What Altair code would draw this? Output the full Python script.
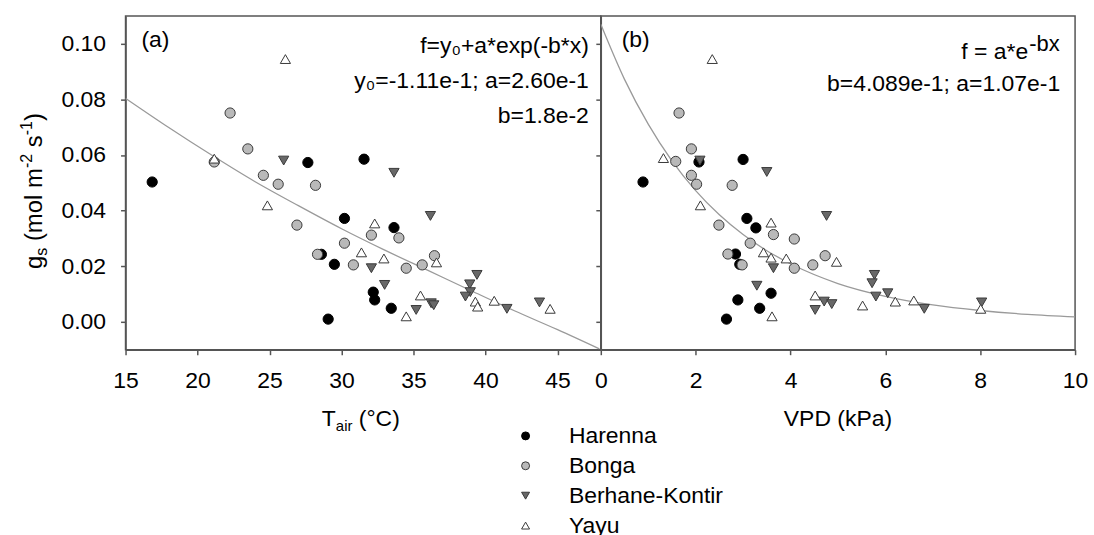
import altair as alt
import pandas as pd

FONT = "Liberation Sans"
SITES = ["Harenna", "Bonga", "Berhane-Kontir", "Yayu"]
SHAPES = ["circle", "circle", "triangle-down", "triangle-up"]
FILLS = ["#000000", "#b9b9b9", "#686868", "#ffffff"]
STROKES = ["#000000", "#3a3a3a", "#3a3a3a", "#3a3a3a"]

# ---- panel (a): T_air vs gs ----
harenna_t = [16.85, 27.66, 30.2, 28.6, 29.5, 29.07, 31.56, 33.64, 32.2, 32.3, 33.45]
harenna_t_gs = [0.0503, 0.0573, 0.0372, 0.0243, 0.0207, 0.001, 0.0585, 0.0339, 0.0107, 0.0079, 0.0049]
bonga_t = [22.26, 23.49, 21.16, 24.57, 25.6, 28.19, 26.9, 30.2, 28.33, 30.82, 32.07, 33.98, 36.45, 34.49, 35.6]
bonga_t_gs = [0.0751, 0.0622, 0.0575, 0.0527, 0.0495, 0.0491, 0.0348, 0.0283, 0.0243, 0.0205, 0.0312, 0.0302, 0.0238, 0.0193, 0.0205]
berhane_t = [25.98, 33.64, 36.17, 32.07, 32.99, 35.18, 36.22, 36.4, 39.4, 38.9, 38.94, 38.6, 41.48, 43.74]
berhane_t_gs = [0.058, 0.0536, 0.0381, 0.0193, 0.0133, 0.0043, 0.0067, 0.006, 0.0169, 0.0135, 0.0107, 0.0091, 0.0047, 0.007]
yayu_t = [26.1, 21.16, 24.85, 31.38, 32.3, 32.94, 36.59, 35.48, 34.49, 39.29, 39.45, 40.6, 44.48]
yayu_t_gs = [0.0945, 0.0587, 0.0419, 0.025, 0.0354, 0.0228, 0.0214, 0.0095, 0.002, 0.0073, 0.0055, 0.0076, 0.0047]

# ---- panel (b): VPD vs gs ----
harenna_v = [0.89, 2.07, 3.0, 3.08, 3.27, 2.84, 2.93, 3.59, 2.89, 3.35, 2.65]
harenna_v_gs = [0.0503, 0.0575, 0.0584, 0.0372, 0.0338, 0.0244, 0.0207, 0.0103, 0.0079, 0.0049, 0.001]
bonga_v = [1.65, 1.91, 1.58, 1.91, 2.02, 2.77, 2.49, 3.15, 2.68, 2.98, 3.64, 4.08, 4.73, 4.47, 4.08]
bonga_v_gs = [0.0751, 0.0622, 0.0577, 0.0527, 0.0495, 0.0491, 0.0348, 0.0283, 0.0244, 0.0205, 0.0314, 0.0298, 0.0238, 0.0205, 0.0193]
berhane_v = [2.09, 3.5, 4.76, 3.64, 3.29, 4.52, 4.71, 4.87, 5.77, 5.72, 5.8, 6.05, 6.82, 8.03]
berhane_v_gs = [0.058, 0.0539, 0.0381, 0.0193, 0.013, 0.0043, 0.0073, 0.0064, 0.0169, 0.0139, 0.0091, 0.0103, 0.0047, 0.007]
yayu_v = [2.35, 1.32, 2.1, 3.59, 3.43, 3.59, 3.91, 4.97, 4.52, 3.61, 5.52, 6.21, 6.6, 8.01]
yayu_v_gs = [0.0945, 0.0589, 0.0419, 0.0357, 0.025, 0.0231, 0.0228, 0.0216, 0.0095, 0.002, 0.0059, 0.0073, 0.0077, 0.0047]

# ---- fitted curves ----
curve_a_x = [15, 18, 21, 24, 27, 30, 33, 36, 39, 42, 45, 47.9]
curve_a_y = [0.0804, 0.0699, 0.0599, 0.0504, 0.0418, 0.0335, 0.0258, 0.0185, 0.0112, 0.0040, -0.0028, -0.0097]
curve_b_x = [0, 0.5, 1, 1.5, 2, 2.5, 3, 3.5, 4, 5, 6, 7, 8, 9, 10]
curve_b_y = [0.107, 0.0872, 0.0711, 0.0579, 0.0472, 0.0385, 0.0314, 0.0256, 0.0209, 0.0138, 0.0092, 0.0061, 0.0041, 0.0027, 0.0018]

x_ticks_a = [15, 20, 25, 30, 35, 40, 45]
x_ticks_b = [0, 2, 4, 6, 8, 10]
y_ticks = [0.0, 0.02, 0.04, 0.06, 0.08, 0.10]

FS = 23
TFS = 24
SUB = 16
W = {"g": .556, "s": .5, "(": .333, ")": .333, "m": .833, "o": .556, "l": .222, " ": .278,
     "-": .333, "1": .556, "2": .556, "T": .611, "a": .556, "i": .222, "r": .333, "°": .4, "C": .722}


def tw(s, fs):
    return sum(W.get(c, .556) for c in s) * fs


def table(groups):
    rows = []
    for site, xs, ys in groups:
        for xv, yv in zip(xs, ys):
            rows.append({"site": site, "x": xv, "gs": yv})
    return pd.DataFrame(rows)


df_a = table([("Harenna", harenna_t, harenna_t_gs), ("Bonga", bonga_t, bonga_t_gs),
              ("Berhane-Kontir", berhane_t, berhane_t_gs), ("Yayu", yayu_t, yayu_t_gs)])
df_b = table([("Harenna", harenna_v, harenna_v_gs), ("Bonga", bonga_v, bonga_v_gs),
              ("Berhane-Kontir", berhane_v, berhane_v_gs), ("Yayu", yayu_v, yayu_v_gs)])

leg = dict(orient="none", legendX=390, legendY=410, title=None, direction="vertical",
           labelFont=FONT, labelFontSize=FS, labelColor="black", labelOffset=32,
           rowPadding=6, symbolSize=64, symbolStrokeWidth=1, padding=0)


def txt(s, x, y, fs=FS, align="left", angle=0):
    return alt.Chart(pd.DataFrame({"t": [s]})).mark_text(
        font=FONT, fontSize=fs, align=align, baseline="alphabetic", angle=angle, color="black"
    ).encode(text="t:N", x=alt.value(x), y=alt.value(y))


def panel(df, cx, cy, domain, ticks, show_y_labels):
    xs = alt.X("x:Q", scale=alt.Scale(domain=domain, nice=False, zero=False),
               axis=alt.Axis(values=ticks, title=None, format="d", labelFlush=False, labelOverlap=False))
    ys = alt.Y("gs:Q", scale=alt.Scale(domain=[-0.01, 0.11], nice=False, zero=False),
               axis=alt.Axis(values=y_ticks, title=None, format=".2f", labels=show_y_labels))
    curve = alt.Chart(pd.DataFrame({"x": cx, "gs": cy})).mark_line(
        color="#9a9a9a", strokeWidth=1.3, interpolate="monotone", clip=True
    ).encode(x=xs, y=ys)
    pts = alt.Chart(df).mark_point(filled=True, opacity=1, size=105, strokeWidth=1).encode(
        x=xs, y=ys,
        shape=alt.Shape("site:N", scale=alt.Scale(domain=SITES, range=SHAPES), legend=alt.Legend(**leg)),
        fill=alt.Fill("site:N", scale=alt.Scale(domain=SITES, range=FILLS), legend=alt.Legend(**leg)),
        stroke=alt.Stroke("site:N", scale=alt.Scale(domain=SITES, range=STROKES), legend=alt.Legend(**leg)),
    )
    return curve, pts


ca, pa = panel(df_a, curve_a_x, curve_a_y, [15, 48], x_ticks_a, True)
cb, pb = panel(df_b, curve_b_x, curve_b_y, [0, 10], x_ticks_b, False)

# annotations panel (a)
ann_a = [
    txt("(a)", 16, 31),
    txt("f=y₀+a*exp(-b*x)", 465, 37, align="right"),
    txt("y₀=-1.11e-1; a=2.60e-1", 465, 72, align="right"),
    txt("b=1.8e-2", 465, 107, align="right"),
]
# x title (a): T_air (°C)
xt = 197
ann_a += [
    txt("T", xt, 412),
    txt("air", xt + tw("T", FS), 417, fs=SUB - 1),
    txt("(°C)", xt + tw("T", FS) + tw("air", SUB - 1) + tw(" ", FS), 412),
]
# y title: g_s (mol m^-2 s^-1), rotated
yb = 254
pieces = [("g", TFS, 0), ("s", SUB, 5), (" ", TFS, 0), ("(mol m", TFS, 0), ("-2", SUB, -10),
          (" ", TFS, 0), ("s", TFS, 0), ("-1", SUB, -10), (")", TFS, 0)]
for s, fs, dx in pieces:
    if s.strip():
        ann_a.append(txt(s, -84 + dx, yb, fs=fs, angle=270))
    yb -= tw(s, fs)

ann_b = [
    txt("(b)", 21, 31),
    txt("f = a*e", 429, 43, align="right"),
    txt("-bx", 430, 35, fs=22),
    txt("b=4.089e-1; a=1.07e-1", 461, 75, align="right"),
    txt("VPD (kPa)", 238, 412, align="center"),
]

left = alt.layer(ca, pa, *ann_a).properties(width=477, height=335)
right = alt.layer(cb, pb, *ann_b).properties(width=476, height=335)

chart = alt.hconcat(left, right, spacing=0, bounds="flush").resolve_scale(
    x="independent", y="independent", shape="shared", fill="shared", stroke="shared"
).configure_view(stroke="#555555", strokeWidth=1.5).configure_axis(
    grid=False, domainColor="#555555", domainWidth=1.5, tickColor="#555555", tickWidth=1.5,
    tickSize=5, labelFont=FONT, labelFontSize=FS, labelColor="black", labelPadding=15
).configure_axisX(labelPadding=15).properties(
    padding={"left": 18, "top": 14, "right": 5, "bottom": 5}
)

chart.save("out.html", embed_options={"renderer": "svg", "actions": False})
